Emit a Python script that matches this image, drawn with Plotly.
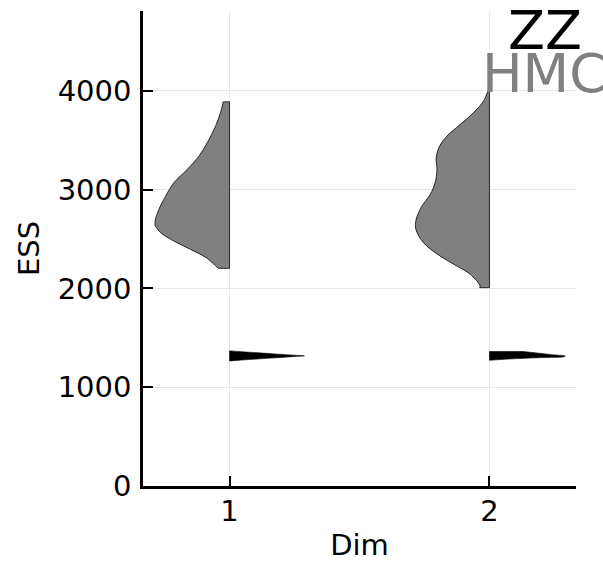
import plotly.graph_objects as go

# Dimensions on the x axis
dims = [1, 2]
dim_labels = ["1", "2"]

# HMC effective sample size: density profile (ESS level, half-width in x units)
hmc_ess = [
    [2204, 2250, 2312, 2396, 2480, 2565, 2632, 2666, 2700, 2801, 2935, 3071,
     3205, 3340, 3475, 3643, 3779, 3890],
    [2009, 2025, 2144, 2227, 2329, 2464, 2599, 2700, 2834, 2952, 3071, 3205,
     3323, 3441, 3542, 3660, 3779, 3896, 3960, 4010],
]
hmc_width = [
    [0.043, 0.062, 0.090, 0.150, 0.214, 0.265, 0.285, 0.287, 0.285, 0.272,
     0.246, 0.214, 0.163, 0.118, 0.086, 0.054, 0.035, 0.024],
    [0.038, 0.036, 0.074, 0.125, 0.190, 0.254, 0.283, 0.282, 0.260, 0.228,
     0.209, 0.202, 0.205, 0.192, 0.164, 0.113, 0.062, 0.023, 0.012, 0.004],
]

# ZZ effective sample size: density profile (ESS level, half-width in x units)
zz_ess = [
    [1267, 1280, 1295, 1310, 1318, 1325, 1340, 1355, 1368],
    [1274, 1285, 1300, 1308, 1316, 1330, 1345, 1355, 1362],
]
zz_width = [
    [0.004, 0.073, 0.158, 0.243, 0.288, 0.248, 0.161, 0.075, 0.004],
    [0.004, 0.070, 0.200, 0.285, 0.292, 0.240, 0.190, 0.155, 0.130],
]

y_ticks = [0, 1000, 2000, 3000, 4000]

FONT = "DejaVu Sans"
HMC_COLOR = "#808080"
ZZ_COLOR = "#000000"


def add_half_violin(fig, center, levels, widths, side, color, lw):
    """One side of a violin: a straight frame along x = center plus a
    smoothed density curve filled back to that frame."""
    sign = -1 if side == "left" else 1
    curve_x = [center + sign * w for w in widths]
    curve_y = list(levels)
    # frame: bottom edge, centre line, top edge
    fig.add_trace(go.Scatter(
        x=[curve_x[0], center, center, curve_x[-1]],
        y=[curve_y[0], curve_y[0], curve_y[-1], curve_y[-1]],
        mode="lines", line=dict(color="black", width=lw),
        showlegend=False, hoverinfo="skip",
    ))
    # density curve, filled to the frame
    fig.add_trace(go.Scatter(
        x=curve_x, y=curve_y, mode="lines", fill="tonext", fillcolor=color,
        line=dict(color="black", width=lw, shape="spline", smoothing=1),
        showlegend=False, hoverinfo="skip",
    ))


fig = go.Figure()

for i, d in enumerate(dims):
    add_half_violin(fig, d, hmc_ess[i], hmc_width[i], "left", HMC_COLOR, 0.8)
    add_half_violin(fig, d, zz_ess[i], zz_width[i], "right", ZZ_COLOR, 0.6)

# Series labels in the upper right corner
fig.add_annotation(text="ZZ", xref="paper", yref="paper", x=0.928, y=1.029,
                   xanchor="center", yanchor="top", showarrow=False,
                   font=dict(family=FONT, size=54, color=ZZ_COLOR))
fig.add_annotation(text="HMC", xref="paper", yref="paper", x=0.928, y=0.938,
                   xanchor="center", yanchor="top", showarrow=False,
                   font=dict(family=FONT, size=54, color=HMC_COLOR))

axis_common = dict(
    showline=True, linecolor="black", linewidth=2.5,
    ticks="inside", tickcolor="black", tickwidth=1.5, ticklen=10,
    showgrid=True, gridcolor="#e6e6e6", gridwidth=1,
    zeroline=False, mirror=False,
    tickfont=dict(family=FONT, size=29, color="black"),
)

fig.update_xaxes(
    range=[0.667, 2.333], tickvals=dims, ticktext=dim_labels,
    title=dict(text="Dim", font=dict(family=FONT, size=29, color="black"),
               standoff=12),
    ticklabelstandoff=-3,
    **axis_common,
)
fig.update_yaxes(
    range=[0, 4810], tickvals=y_ticks, ticktext=[str(v) for v in y_ticks],
    title=dict(text="ESS", font=dict(family=FONT, size=29, color="black"),
               standoff=10),
    ticklabelstandoff=3,
    **axis_common,
)

fig.update_layout(
    width=603, height=562,
    margin=dict(l=143, r=27, t=11, b=76, autoexpand=False),
    paper_bgcolor="white", plot_bgcolor="white",
    font=dict(family=FONT, color="black"),
)

fig.write_html("out.html")
